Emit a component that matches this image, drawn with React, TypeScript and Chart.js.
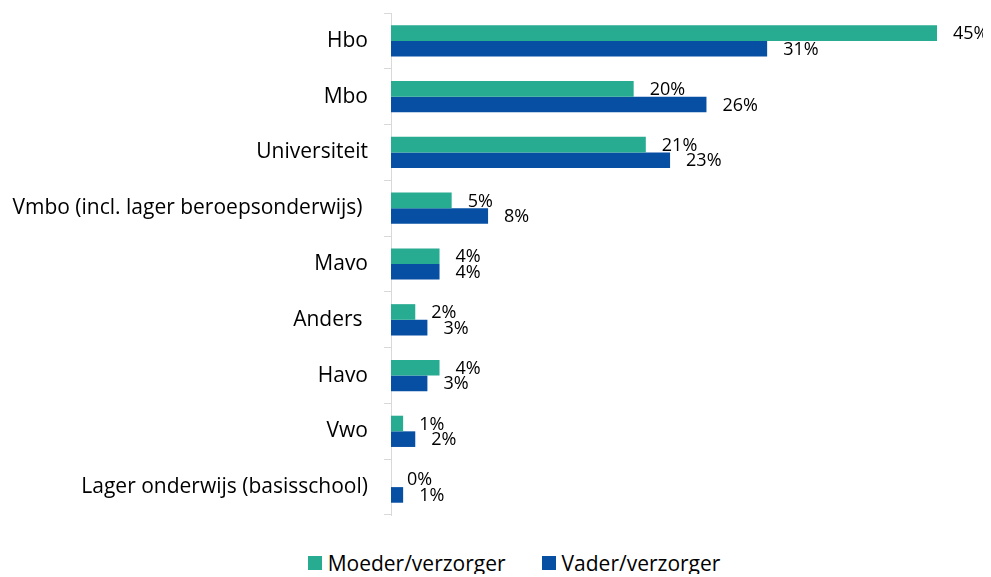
import React, { useEffect, useRef } from "react";
import { Chart, registerables } from "chart.js";

Chart.register(...registerables);

const categories = [
  "Hbo",
  "Mbo",
  "Universiteit",
  "Vmbo (incl. lager beroepsonderwijs) ",
  "Mavo",
  "Anders ",
  "Havo",
  "Vwo",
  "Lager onderwijs (basisschool)",
];
const moeder = [45, 20, 21, 5, 4, 2, 4, 1, 0];
const vader = [31, 26, 23, 8, 4, 3, 3, 2, 1];
const seriesNames = ["Moeder/verzorger", "Vader/verzorger"];
const colors = ["#27AB91", "#064FA3"];
const FONT = "'Open Sans', sans-serif";

const valueLabels = {
  id: "valueLabels",
  afterDatasetsDraw(chart: any) {
    const ctx = chart.ctx;
    ctx.save();
    ctx.font = `18px ${FONT}`;
    ctx.fillStyle = "#000";
    ctx.textAlign = "left";
    ctx.textBaseline = "middle";
    chart.data.datasets.forEach((ds: any, di: number) => {
      const meta = chart.getDatasetMeta(di);
      meta.data.forEach((bar: any, i: number) => {
        ctx.fillText(`${ds.data[i]}%`, bar.x + 16, bar.y + 1);
      });
    });
    ctx.restore();
  },
};

export default function App() {
  const ref = useRef<HTMLCanvasElement>(null);
  useEffect(() => {
    if (!ref.current) return;
    const chart = new Chart(ref.current, {
      type: "bar",
      data: {
        labels: categories,
        datasets: [
          { label: seriesNames[0], data: moeder, backgroundColor: colors[0], categoryPercentage: 0.56, barPercentage: 1 },
          { label: seriesNames[1], data: vader, backgroundColor: colors[1], categoryPercentage: 0.56, barPercentage: 1 },
        ],
      },
      options: {
        indexAxis: "y",
        animation: false,
        responsive: false,
        layout: { padding: { top: 5, bottom: 5, right: 54, left: 0 } },
        plugins: { legend: { display: false }, tooltip: { enabled: false } },
        scales: {
          x: { display: false, min: 0, max: 45 },
          y: {
            offset: true,
            border: { display: true, color: "#D9D9D9", width: 1 },
            grid: { offset: true, drawOnChartArea: false, drawTicks: true, tickLength: 7, color: "#D9D9D9" },
            ticks: { padding: 16, color: "#000", font: { family: FONT, size: 21 } },
            afterFit(scale: any) {
              scale.paddingTop = 0;
              scale.paddingBottom = 0;
              scale.width = 383;
            },
          },
        },
      },
      plugins: [valueLabels],
    });
    return () => chart.destroy();
  }, []);
  return (
    <div style={{ width: 983 }}>
      <canvas ref={ref} width={983} height={512} style={{ display: "block" }} />
      <div
        style={{
          display: "flex",
          justifyContent: "center",
          paddingLeft: 29,
          marginTop: 32,
          fontFamily: FONT,
          fontSize: 21,
          color: "#000",
          lineHeight: "22px",
        }}
      >
        {seriesNames.map((n, i) => (
          <div key={n} style={{ display: "flex", alignItems: "center", marginRight: i === 0 ? 36 : 0 }}>
            <span style={{ width: 14, height: 14, background: colors[i], display: "inline-block", marginRight: 6 }} />
            <span>{n}</span>
          </div>
        ))}
      </div>
    </div>
  );
}
